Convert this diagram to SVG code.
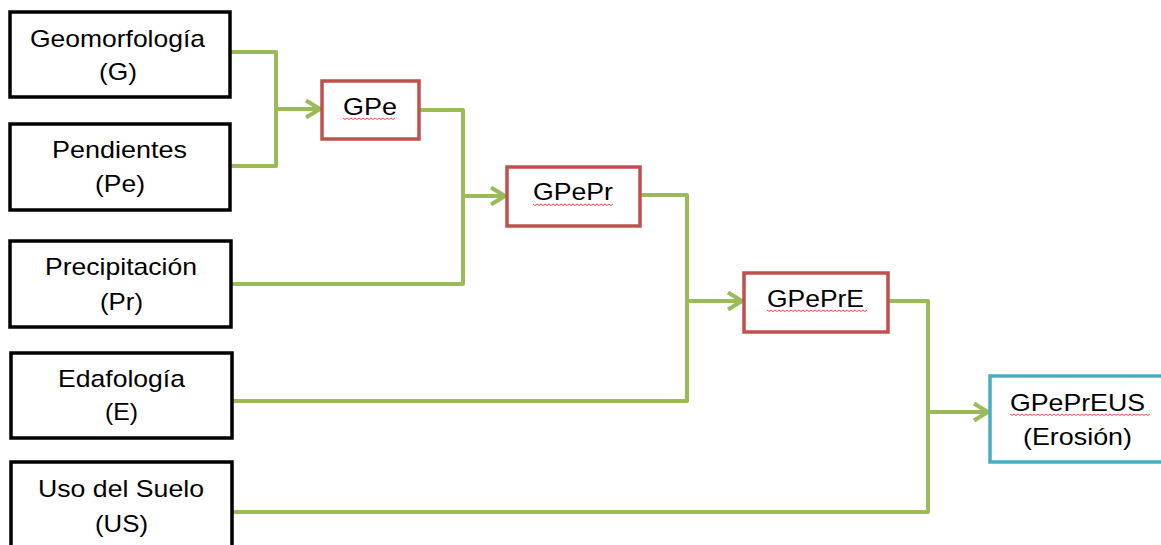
<svg xmlns="http://www.w3.org/2000/svg" width="1161" height="545" viewBox="0 0 1161 545">
<style>
.bk{fill:#fff;stroke:#000;stroke-width:3.5}
.rd{fill:#fff;stroke:#C0504D;stroke-width:3.5}
.bl{fill:#fff;stroke:#4BACC6;stroke-width:3.5}
.t{font-family:"Liberation Sans",Arial,sans-serif;font-size:24px;fill:#000}
.c{fill:none;stroke:#9BBB59;stroke-width:4;stroke-linejoin:round}
.sq{fill:none;stroke:#E05050;stroke-width:1}
</style>
<defs>
<marker id="ah" markerUnits="userSpaceOnUse" markerWidth="22" markerHeight="22" refX="17" refY="11" orient="auto">
<path d="M3,2.5 L17,11 L3,19.5" fill="none" stroke="#9BBB59" stroke-width="4" stroke-linejoin="round"/>
</marker>
</defs>
<rect width="1161" height="545" fill="#fff"/>
<g id="connectors">
<path class="c" d="M231,52 H276 V166 H231"/>
<path class="c" d="M276,109 H320" marker-end="url(#ah)"/>
<path class="c" d="M420,110 H463 V284 H231"/>
<path class="c" d="M463,196 H505" marker-end="url(#ah)"/>
<path class="c" d="M640,195 H687 V401 H231"/>
<path class="c" d="M687,301 H742" marker-end="url(#ah)"/>
<path class="c" d="M888,301 H928 V512 H231"/>
<path class="c" d="M928,412 H988" marker-end="url(#ah)"/>
</g>
<g id="G">
<rect class="bk" x="10" y="12" width="220" height="85"/>
<text class="t" x="30" y="47" textLength="175" lengthAdjust="spacingAndGlyphs">Geomorfología</text>
<text class="t" x="99" y="80" textLength="38" lengthAdjust="spacingAndGlyphs">(G)</text>
</g>
<g id="Pe">
<rect class="bk" x="10" y="124" width="220" height="86"/>
<text class="t" x="52" y="158" textLength="135" lengthAdjust="spacingAndGlyphs">Pendientes</text>
<text class="t" x="95" y="192" textLength="50" lengthAdjust="spacingAndGlyphs">(Pe)</text>
</g>
<g id="Pr">
<rect class="bk" x="10" y="241" width="221" height="86"/>
<text class="t" x="45" y="275" textLength="152" lengthAdjust="spacingAndGlyphs">Precipitación</text>
<text class="t" x="100" y="310" textLength="43" lengthAdjust="spacingAndGlyphs">(Pr)</text>
</g>
<g id="E">
<rect class="bk" x="11" y="353" width="221" height="85"/>
<text class="t" x="58" y="387" textLength="127" lengthAdjust="spacingAndGlyphs">Edafología</text>
<text class="t" x="105" y="420" textLength="33" lengthAdjust="spacingAndGlyphs">(E)</text>
</g>
<g id="US">
<rect class="bk" x="11" y="462" width="221" height="95"/>
<text class="t" x="38" y="497" textLength="166" lengthAdjust="spacingAndGlyphs">Uso del Suelo</text>
<text class="t" x="95" y="532" textLength="53" lengthAdjust="spacingAndGlyphs">(US)</text>
</g>
<g id="GPe">
<rect class="rd" x="322" y="81" width="97" height="58"/>
<text class="t" x="343" y="115" textLength="54" lengthAdjust="spacingAndGlyphs">GPe</text>
<path class="sq" d="M343,118 l2,1.5 l2,-1.5 l2,1.5 l2,-1.5 l2,1.5 l2,-1.5 l2,1.5 l2,-1.5 l2,1.5 l2,-1.5 l2,1.5 l2,-1.5 l2,1.5 l2,-1.5 l2,1.5 l2,-1.5 l2,1.5 l2,-1.5 l2,1.5 l2,-1.5 l2,1.5 l2,-1.5 l2,1.5 l2,-1.5 l2,1.5 l2,-1.5"/>
</g>
<g id="GPePr">
<rect class="rd" x="507" y="167" width="133" height="59"/>
<text class="t" x="533" y="200" textLength="80" lengthAdjust="spacingAndGlyphs">GPePr</text>
<path class="sq" d="M533,204 l2,1.5 l2,-1.5 l2,1.5 l2,-1.5 l2,1.5 l2,-1.5 l2,1.5 l2,-1.5 l2,1.5 l2,-1.5 l2,1.5 l2,-1.5 l2,1.5 l2,-1.5 l2,1.5 l2,-1.5 l2,1.5 l2,-1.5 l2,1.5 l2,-1.5 l2,1.5 l2,-1.5 l2,1.5 l2,-1.5 l2,1.5 l2,-1.5 l2,1.5 l2,-1.5 l2,1.5 l2,-1.5 l2,1.5 l2,-1.5 l2,1.5 l2,-1.5 l2,1.5 l2,-1.5 l2,1.5 l2,-1.5 l2,1.5 l2,-1.5"/>
</g>
<g id="GPePrE">
<rect class="rd" x="744" y="273" width="144" height="59"/>
<text class="t" x="767" y="307" textLength="97" lengthAdjust="spacingAndGlyphs">GPePrE</text>
<path class="sq" d="M767,310 l2,1.5 l2,-1.5 l2,1.5 l2,-1.5 l2,1.5 l2,-1.5 l2,1.5 l2,-1.5 l2,1.5 l2,-1.5 l2,1.5 l2,-1.5 l2,1.5 l2,-1.5 l2,1.5 l2,-1.5 l2,1.5 l2,-1.5 l2,1.5 l2,-1.5 l2,1.5 l2,-1.5 l2,1.5 l2,-1.5 l2,1.5 l2,-1.5 l2,1.5 l2,-1.5 l2,1.5 l2,-1.5 l2,1.5 l2,-1.5 l2,1.5 l2,-1.5 l2,1.5 l2,-1.5 l2,1.5 l2,-1.5 l2,1.5 l2,-1.5 l2,1.5 l2,-1.5 l2,1.5 l2,-1.5 l2,1.5 l2,-1.5 l2,1.5 l2,-1.5 l2,1.5 l2,-1.5"/>
</g>
<g id="GPePrEUS">
<rect class="bl" x="990" y="376" width="185" height="86"/>
<text class="t" x="1010" y="411" textLength="135" lengthAdjust="spacingAndGlyphs">GPePrEUS</text>
<text class="t" x="1023" y="445" textLength="109" lengthAdjust="spacingAndGlyphs">(Erosión)</text>
<path class="sq" d="M1010,414 l2,1.5 l2,-1.5 l2,1.5 l2,-1.5 l2,1.5 l2,-1.5 l2,1.5 l2,-1.5 l2,1.5 l2,-1.5 l2,1.5 l2,-1.5 l2,1.5 l2,-1.5 l2,1.5 l2,-1.5 l2,1.5 l2,-1.5 l2,1.5 l2,-1.5 l2,1.5 l2,-1.5 l2,1.5 l2,-1.5 l2,1.5 l2,-1.5 l2,1.5 l2,-1.5 l2,1.5 l2,-1.5 l2,1.5 l2,-1.5 l2,1.5 l2,-1.5 l2,1.5 l2,-1.5 l2,1.5 l2,-1.5 l2,1.5 l2,-1.5 l2,1.5 l2,-1.5 l2,1.5 l2,-1.5 l2,1.5 l2,-1.5 l2,1.5 l2,-1.5 l2,1.5 l2,-1.5 l2,1.5 l2,-1.5 l2,1.5 l2,-1.5 l2,1.5 l2,-1.5 l2,1.5 l2,-1.5 l2,1.5 l2,-1.5 l2,1.5 l2,-1.5 l2,1.5 l2,-1.5 l2,1.5 l2,-1.5 l2,1.5 l2,-1.5 l2,1.5 l2,-1.5"/>
</g>
</svg>
